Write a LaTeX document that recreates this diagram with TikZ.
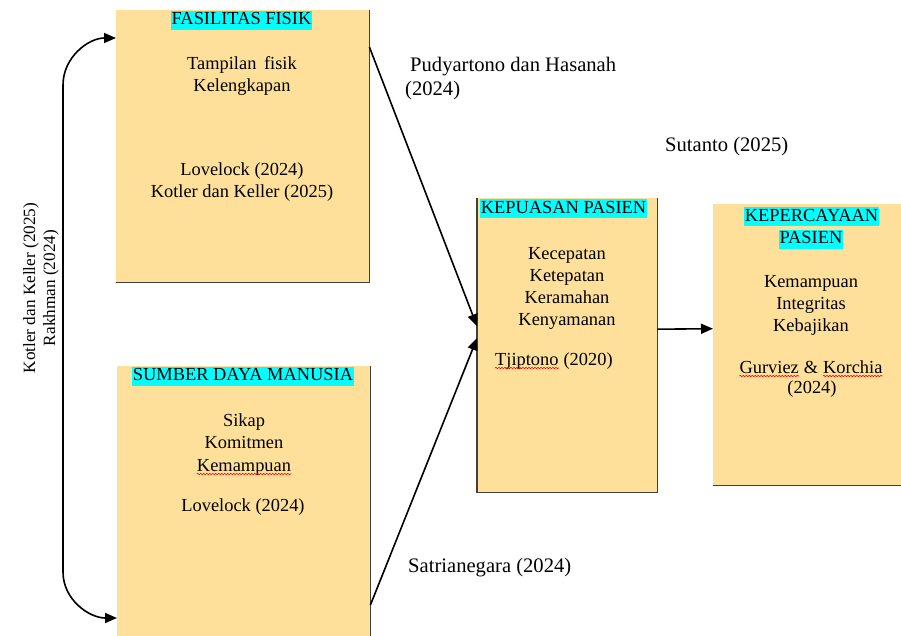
\documentclass[tikz,border=0pt]{standalone}
\usepackage{fontspec}
\setmainfont{Liberation Serif}
\usetikzlibrary{arrows.meta,decorations.pathmorphing}

\definecolor{boxfill}{RGB}{254,224,154}
\definecolor{headcyan}{RGB}{0,255,255}
\definecolor{edgegray}{RGB}{64,64,64}

\begin{document}
\begin{tikzpicture}[
  x = 1pt, y = -1pt,
  every node/.style = {font=\fontsize{18.4}{22}\selectfont, inner sep=0pt},
  box/.style = {fill=boxfill, anchor=north west},
  head/.style = {fill=headcyan, inner xsep=1pt, text height=14pt, text depth=5pt},
  body/.style = {align=center},
  note/.style = {anchor=base west, font=\fontsize{20.6}{24}\selectfont},
  edgeline/.style = {draw=edgegray, line width=1.4pt},
  tip/.style = {-{Triangle[length=12pt,width=10pt]}},
  link/.style = {draw, line width=1.6pt, tip},
  spell/.style = {draw=red, line width=0.6pt, decorate,
                  decoration={snake, amplitude=0.7pt, segment length=3pt}},
]

\useasboundingbox (0,0) rectangle (901,635);
\clip (0,0) rectangle (901,635);

% the four boxes
\node[box, minimum width=253pt, minimum height=272pt] (fas) at (116,10) {};
\node[box, minimum width=253pt, minimum height=280pt] (sdm) at (117,366) {};
\node[box, minimum width=180pt, minimum height=294pt] (kep) at (477,198) {};
\node[box, minimum width=200pt, minimum height=281pt] (kpc) at (713,204) {};

% dark right and bottom edges
\foreach \b in {fas, sdm, kpc}
  \draw[edgeline] (\b.north east) -- (\b.south east) -- (\b.south west);
\draw[edgeline] (kep.north west) -- (kep.south west) -- (kep.south east) -- (kep.north east);

% FASILITAS FISIK
\node[head] (fashead) at (241.5,20) {FASILITAS FISIK};
\node[body] (fasvar) at (242,76) {Tampilan\, fisik\\Kelengkapan};
\node[body] (fasref) at (242,182.5) {Lovelock (2024)\\Kotler dan Keller (2025)};

% SUMBER DAYA MANUSIA
\node[head] (sdmhead) at (243,376) {SUMBER DAYA MANUSIA};
\node[body] (sdmvar) at (244,431) {Sikap\\Komitmen};
\node[anchor=base] (kemsdm) at (244,471) {Kemampuan};
\node (sdmref) at (243,507) {Lovelock (2024)};

% KEPUASAN PASIEN
\node[head] (kephead) at (563.5,208.5) {KEPUASAN PASIEN};
\node[body] (kepvar) at (567,288) {Kecepatan\\Ketepatan\\Keramahan\\Kenyamanan};
\node[anchor=base west] (tjip) at (495,365) {Tjiptono};
\node[anchor=base west] (tjipyear) at ([xshift=4.6pt]tjip.base east) {(2020)};

% KEPERCAYAAN PASIEN
\node[head] (kpchead) at (811.5,216.5) {KEPERCAYAAN};
\node[head] (kpchead2) at (811,239) {PASIEN};
\node[body] (kpcvar) at (811,305) {Kemampuan\\Integritas\\Kebajikan};
\node[anchor=base] (amp) at (811,373) {\&};
\node[anchor=base east] (gurv) at ([xshift=-4.6pt]amp.base west) {Gurviez};
\node[anchor=base west] (korch) at ([xshift=4.6pt]amp.base east) {Korchia};
\node (kpcyear) at (812,389) {(2024)};

% spelling marks
\foreach \w in {kemsdm, tjip, gurv, korch}
  \draw[spell] ([yshift=-3pt]\w.base west) -- ([yshift=-3pt]\w.base east);

% labels beside the arrows
\node[note] (pudy) at (410,71) {Pudyartono dan Hasanah};
\node[note] (pudyyear) at (405,95) {(2024)};
\node[note] (sutanto) at (665,151) {Sutanto (2025)};
\node[note] (satria) at (408,572) {Satrianegara (2024)};
\node[body, rotate=90, font=\fontsize{17.2}{20}\selectfont] (kotler) at (41,288)
  {Kotler dan Keller (2025)\\Rakhman (2024)};

% arrows
\draw[link] ([yshift=-37pt]fas.north east) -- ([yshift=19pt]kep.west);
\draw[link] ([yshift=-239pt]sdm.north east) -- ([yshift=7pt]kep.west);
\draw[link] ([yshift=16pt]kep.east) -- ([yshift=16pt]kpc.west);

\coordinate (bendtop) at (63,85);
\coordinate (bendbot) at (63,572);
\draw[link, {Triangle[length=12pt,width=10pt]}-{Triangle[length=12pt,width=10pt]}]
  ([yshift=-28pt]fas.north west) to[out=180, in=90] (bendtop)
  -- (bendbot) to[out=-90, in=180] ([yshift=-252pt]sdm.north west);

\end{tikzpicture}
\end{document}
